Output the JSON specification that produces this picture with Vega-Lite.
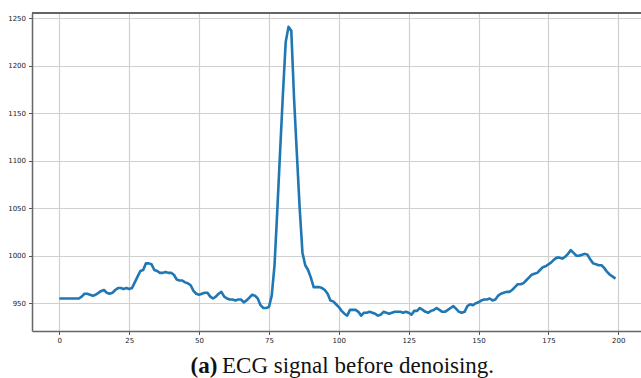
{
  "$schema": "https://vega.github.io/schema/vega-lite/v6.json",
  "width": 609,
  "height": 318,
  "autosize": {"type": "none"},
  "padding": {"left": 32, "top": 13, "right": 0, "bottom": 47},
  "background": "white",
  "title": {
    "text": "ECG signal before denoising.",
    "orient": "bottom",
    "anchor": "start",
    "align": "left",
    "frame": "group",
    "dx": 190,
    "dy": -4,
    "offset": 0,
    "baseline": "alphabetic",
    "font": "Liberation Serif",
    "fontSize": 23,
    "fontWeight": "normal",
    "color": "#111111"
  },
  "config": {
    "view": {"stroke": null},
    "axis": {
      "labelFont": "DejaVu Sans",
      "labelFontSize": 7,
      "labelColor": "#222222",
      "tickColor": "#555555",
      "tickSize": 3.5,
      "tickWidth": 1,
      "domainColor": "#666666",
      "domainWidth": 1.5,
      "gridColor": "#d0d0d0",
      "gridWidth": 1.2
    }
  },
  "data": {
    "values": [
      {"i": 0, "v": 955}, {"i": 1, "v": 955}, {"i": 2, "v": 955}, {"i": 3, "v": 955}, {"i": 4, "v": 955},
      {"i": 5, "v": 955}, {"i": 6, "v": 955}, {"i": 7, "v": 955}, {"i": 8, "v": 957}, {"i": 9, "v": 960},
      {"i": 10, "v": 960}, {"i": 11, "v": 959}, {"i": 12, "v": 958}, {"i": 13, "v": 959}, {"i": 14, "v": 961},
      {"i": 15, "v": 963}, {"i": 16, "v": 964}, {"i": 17, "v": 961}, {"i": 18, "v": 960}, {"i": 19, "v": 961},
      {"i": 20, "v": 964}, {"i": 21, "v": 966}, {"i": 22, "v": 966}, {"i": 23, "v": 965}, {"i": 24, "v": 966},
      {"i": 25, "v": 965}, {"i": 26, "v": 966}, {"i": 27, "v": 972}, {"i": 28, "v": 978}, {"i": 29, "v": 984},
      {"i": 30, "v": 985}, {"i": 31, "v": 992}, {"i": 32, "v": 992}, {"i": 33, "v": 991}, {"i": 34, "v": 985},
      {"i": 35, "v": 984}, {"i": 36, "v": 982}, {"i": 37, "v": 982}, {"i": 38, "v": 983}, {"i": 39, "v": 982},
      {"i": 40, "v": 982}, {"i": 41, "v": 980}, {"i": 42, "v": 975}, {"i": 43, "v": 974}, {"i": 44, "v": 974},
      {"i": 45, "v": 972}, {"i": 46, "v": 971}, {"i": 47, "v": 969}, {"i": 48, "v": 963}, {"i": 49, "v": 960},
      {"i": 50, "v": 959}, {"i": 51, "v": 960}, {"i": 52, "v": 961}, {"i": 53, "v": 961}, {"i": 54, "v": 957},
      {"i": 55, "v": 955}, {"i": 56, "v": 957}, {"i": 57, "v": 960}, {"i": 58, "v": 962}, {"i": 59, "v": 957},
      {"i": 60, "v": 955}, {"i": 61, "v": 954}, {"i": 62, "v": 954}, {"i": 63, "v": 953}, {"i": 64, "v": 954},
      {"i": 65, "v": 954}, {"i": 66, "v": 951}, {"i": 67, "v": 953}, {"i": 68, "v": 956}, {"i": 69, "v": 959},
      {"i": 70, "v": 958}, {"i": 71, "v": 955}, {"i": 72, "v": 948}, {"i": 73, "v": 945}, {"i": 74, "v": 945},
      {"i": 75, "v": 946}, {"i": 76, "v": 958}, {"i": 77, "v": 990}, {"i": 78, "v": 1048}, {"i": 79, "v": 1110},
      {"i": 80, "v": 1170}, {"i": 81, "v": 1225}, {"i": 82, "v": 1241}, {"i": 83, "v": 1237}, {"i": 84, "v": 1165},
      {"i": 85, "v": 1107}, {"i": 86, "v": 1050}, {"i": 87, "v": 1003}, {"i": 88, "v": 990}, {"i": 89, "v": 985},
      {"i": 90, "v": 977}, {"i": 91, "v": 967}, {"i": 92, "v": 967}, {"i": 93, "v": 967}, {"i": 94, "v": 966},
      {"i": 95, "v": 964}, {"i": 96, "v": 960}, {"i": 97, "v": 953}, {"i": 98, "v": 952}, {"i": 99, "v": 949},
      {"i": 100, "v": 946}, {"i": 101, "v": 942}, {"i": 102, "v": 939}, {"i": 103, "v": 937}, {"i": 104, "v": 943},
      {"i": 105, "v": 943}, {"i": 106, "v": 943}, {"i": 107, "v": 941}, {"i": 108, "v": 937}, {"i": 109, "v": 940},
      {"i": 110, "v": 940}, {"i": 111, "v": 941}, {"i": 112, "v": 940}, {"i": 113, "v": 939}, {"i": 114, "v": 937},
      {"i": 115, "v": 938}, {"i": 116, "v": 941}, {"i": 117, "v": 940}, {"i": 118, "v": 939}, {"i": 119, "v": 940},
      {"i": 120, "v": 941}, {"i": 121, "v": 941}, {"i": 122, "v": 941}, {"i": 123, "v": 940}, {"i": 124, "v": 941},
      {"i": 125, "v": 940}, {"i": 126, "v": 938}, {"i": 127, "v": 942}, {"i": 128, "v": 942}, {"i": 129, "v": 945},
      {"i": 130, "v": 943}, {"i": 131, "v": 941}, {"i": 132, "v": 940}, {"i": 133, "v": 942}, {"i": 134, "v": 943},
      {"i": 135, "v": 945}, {"i": 136, "v": 943}, {"i": 137, "v": 941}, {"i": 138, "v": 941}, {"i": 139, "v": 943},
      {"i": 140, "v": 945}, {"i": 141, "v": 947}, {"i": 142, "v": 944}, {"i": 143, "v": 941}, {"i": 144, "v": 940},
      {"i": 145, "v": 941}, {"i": 146, "v": 947}, {"i": 147, "v": 949}, {"i": 148, "v": 948}, {"i": 149, "v": 950},
      {"i": 150, "v": 951}, {"i": 151, "v": 953}, {"i": 152, "v": 954}, {"i": 153, "v": 954}, {"i": 154, "v": 955},
      {"i": 155, "v": 953}, {"i": 156, "v": 954}, {"i": 157, "v": 958}, {"i": 158, "v": 960}, {"i": 159, "v": 961},
      {"i": 160, "v": 962}, {"i": 161, "v": 962}, {"i": 162, "v": 964}, {"i": 163, "v": 967}, {"i": 164, "v": 970},
      {"i": 165, "v": 970}, {"i": 166, "v": 971}, {"i": 167, "v": 974}, {"i": 168, "v": 977}, {"i": 169, "v": 980},
      {"i": 170, "v": 981}, {"i": 171, "v": 982}, {"i": 172, "v": 985}, {"i": 173, "v": 988}, {"i": 174, "v": 989},
      {"i": 175, "v": 991}, {"i": 176, "v": 993}, {"i": 177, "v": 996}, {"i": 178, "v": 998}, {"i": 179, "v": 998},
      {"i": 180, "v": 997}, {"i": 181, "v": 999}, {"i": 182, "v": 1002}, {"i": 183, "v": 1006}, {"i": 184, "v": 1003},
      {"i": 185, "v": 1000}, {"i": 186, "v": 1000}, {"i": 187, "v": 1001}, {"i": 188, "v": 1002}, {"i": 189, "v": 1001},
      {"i": 190, "v": 996}, {"i": 191, "v": 992}, {"i": 192, "v": 991}, {"i": 193, "v": 990}, {"i": 194, "v": 990},
      {"i": 195, "v": 987}, {"i": 196, "v": 983}, {"i": 197, "v": 980}, {"i": 198, "v": 978}, {"i": 199, "v": 976}
    ]
  },
  "layer": [
    {
      "mark": {"type": "line", "color": "#1f77b4", "strokeWidth": 2.6, "strokeJoin": "round", "clip": true},
      "encoding": {
        "x": {
          "field": "i",
          "type": "quantitative",
          "scale": {"domain": [-9.77, 208.12], "nice": false, "zero": false},
          "axis": {
            "values": [0, 25, 50, 75, 100, 125, 150, 175, 200],
            "grid": true,
            "labelPadding": 2,
            "title": "(a)",
            "titleFont": "Liberation Serif",
            "titleFontSize": 23,
            "titleFontWeight": "bold",
            "titleColor": "#111111",
            "titleAlign": "left",
            "titleAnchor": "start",
            "titleBaseline": "alphabetic",
            "titleX": 158,
            "titleY": 41
          }
        },
        "y": {
          "field": "v",
          "type": "quantitative",
          "scale": {"domain": [920.8, 1255.6], "nice": false, "zero": false},
          "axis": {
            "values": [950, 1000, 1050, 1100, 1150, 1200, 1250],
            "format": "d",
            "grid": true,
            "labelPadding": 3,
            "title": null
          }
        }
      }
    },
    {
      "mark": {"type": "rule", "color": "#666666", "strokeWidth": 1.5},
      "encoding": {
        "y": {"datum": 1255.6, "type": "quantitative"}
      }
    }
  ]
}
